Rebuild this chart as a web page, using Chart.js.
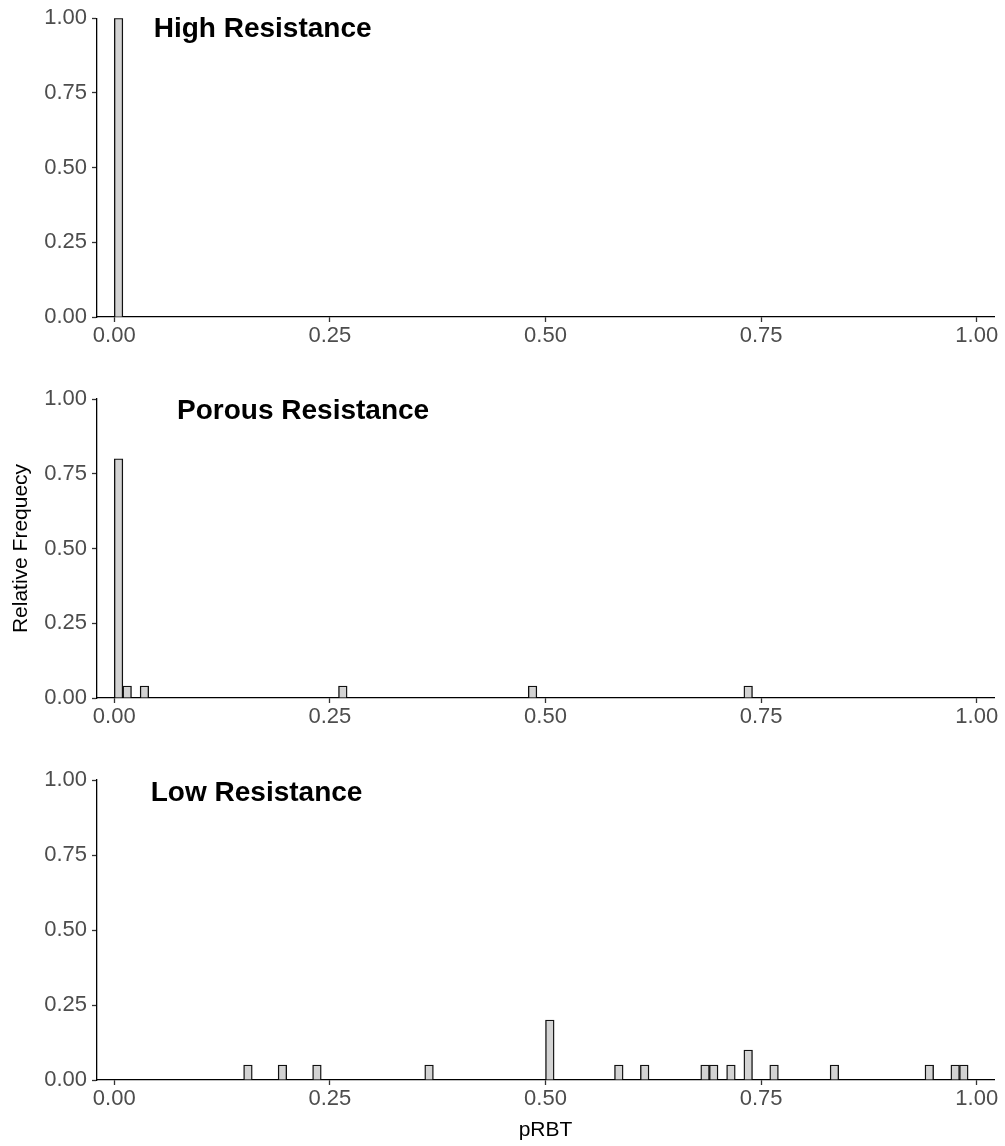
<!DOCTYPE html>
<html>
<head>
<meta charset="utf-8">
<style>
  body { margin: 0; background: #fff; }
  #wrap { position: relative; width: 1005px; height: 1146px; }
  #wrap canvas { position: absolute; left: 0; }
</style>
</head>
<body>
<div id="wrap">
  <canvas id="high" width="1005" height="370" style="top:0px"></canvas>
  <canvas id="porous" width="1005" height="382" style="top:370px"></canvas>
  <canvas id="low" width="1005" height="394" style="top:752px"></canvas>
</div>

<script src="https://cdn.jsdelivr.net/npm/chart.js"></script>
<script>
// histogram bins are 0.01 wide, starting at 0
const binWidth = 0.01;
const binCount = 100;
const xTicks = [0, 0.25, 0.5, 0.75, 1];

// bin starts and relative frequencies per group
const highStart = [0.00];
const highFreq = [1.00];

const porousStart = [0.00, 0.01, 0.03, 0.26, 0.48, 0.73];
const porousFreq = [0.80, 0.04, 0.04, 0.04, 0.04, 0.04];

const lowStart = [0.15, 0.19, 0.23, 0.36, 0.50, 0.58, 0.61, 0.68, 0.69, 0.71, 0.73, 0.76, 0.83, 0.94, 0.97, 0.98];
const lowFreq = [0.05, 0.05, 0.05, 0.05, 0.20, 0.05, 0.05, 0.05, 0.05, 0.05, 0.10, 0.05, 0.05, 0.05, 0.05, 0.05];

const FONT = "'Liberation Sans', Arial, sans-serif";

// spread the non-empty bins over the full grid so bar width = bin width
function toBins(starts, freqs) {
    let pts = [];
    for (let i = 0; i < binCount; i++) {
        let k = starts.findIndex(s => Math.round(s * 100) === i);
        pts.push({ x: i * binWidth + binWidth / 2, y: k >= 0 ? freqs[k] : null });
    }
    return pts;
}

// bold group name drawn inside the plot at a data position
const panelLabel = {
    id: "panelLabel",
    afterDatasetsDraw(chart, args, opts) {
        let ctx = chart.ctx;
        let px = chart.scales.x.getPixelForValue(opts.x);
        let py = chart.scales.y.getPixelForValue(opts.y);
        ctx.save();
        ctx.font = "bold 28px " + FONT;
        ctx.fillStyle = "#000";
        ctx.textAlign = "center";
        ctx.textBaseline = "middle";
        ctx.fillText(opts.text, px, py);
        ctx.restore();
    }
};

function makePanel(id, starts, freqs, label, labelX, labelY, topPad, xHeight, showYTitle, showXTitle) {
    let ctx = document.getElementById(id).getContext("2d");
    return new Chart(ctx, {
        type: "bar",
        data: {
            datasets: [{
                data: toBins(starts, freqs),
                backgroundColor: "#d3d3d3",
                borderColor: "#111",
                borderWidth: 1.4,
                barPercentage: 1,
                categoryPercentage: 1
            }]
        },
        plugins: [panelLabel],
        options: {
            responsive: false,
            animation: false,
            layout: { padding: { top: topPad, right: 11, bottom: 0, left: 0 } },
            scales: {
                x: {
                    type: "linear",
                    offset: false,
                    min: -0.02,
                    max: 1.02,
                    afterBuildTicks: (scale) => { scale.ticks = xTicks.map(v => ({ value: v })); },
                    afterFit: (scale) => { scale.height = xHeight; },
                    ticks: {
                        callback: (v) => v.toFixed(2),
                        color: "#4d4d4d",
                        font: { family: FONT, size: 22 },
                        padding: 1,
                        maxRotation: 0
                    },
                    grid: { offset: false, drawOnChartArea: false, tickLength: 5, tickColor: "#333", tickWidth: 1.3 },
                    border: { color: "#000", width: 1.3 },
                    title: {
                        display: showXTitle,
                        text: "pRBT",
                        color: "#000",
                        font: { family: FONT, size: 21 },
                        padding: { top: 0, bottom: 3 }
                    }
                },
                y: {
                    min: 0,
                    max: 1,
                    afterFit: (scale) => { scale.width = 97; },
                    ticks: {
                        stepSize: 0.25,
                        callback: (v) => v.toFixed(2),
                        color: "#4d4d4d",
                        font: { family: FONT, size: 22 },
                        padding: 5
                    },
                    grid: { drawOnChartArea: false, tickLength: 5, tickColor: "#333", tickWidth: 1.3 },
                    border: { color: "#000", width: 1.3 },
                    title: {
                        display: showYTitle,
                        text: "Relative Frequecy",
                        color: "#000",
                        font: { family: FONT, size: 21 },
                        padding: { top: 9, bottom: 0 }
                    }
                }
            },
            plugins: {
                legend: { display: false },
                tooltip: { enabled: false },
                panelLabel: { text: label, x: labelX, y: labelY }
            }
        }
    });
}

makePanel("high", highStart, highFreq, "High Resistance", 0.172, 0.964, 17, 53, false, false);
makePanel("porous", porousStart, porousFreq, "Porous Resistance", 0.219, 0.96, 29, 54, true, false);
makePanel("low", lowStart, lowFreq, "Low Resistance", 0.165, 0.956, 28, 66, false, true);
</script>
</body>
</html>
